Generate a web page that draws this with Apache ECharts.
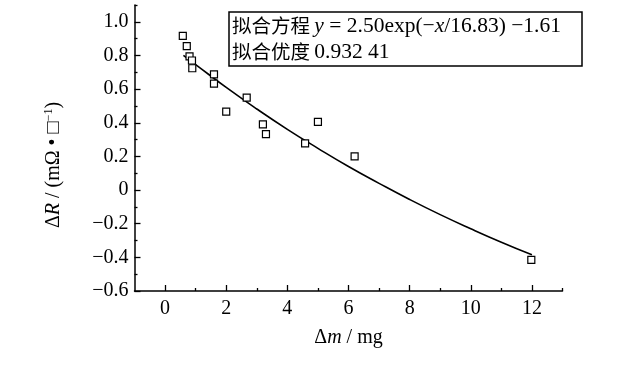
<!DOCTYPE html>
<html><head><meta charset="utf-8">
<script src="https://cdn.jsdelivr.net/npm/echarts@6/dist/echarts.min.js"></script>
<style>html,body{margin:0;padding:0;background:#fff}#c{width:640px;height:380px}</style>
</head><body><div id="c"></div>
<script>
// measured points: mass change (mg) and resistance change
const massLoss = [0.58, 0.71, 0.80, 0.88, 0.89, 1.60, 1.60, 2.00, 2.67, 3.20, 3.30, 4.58, 5.00, 6.20, 11.98];
const resistanceChange = [0.916, 0.855, 0.795, 0.77, 0.724, 0.688, 0.633, 0.466, 0.55, 0.39, 0.332, 0.277, 0.405, 0.20, -0.415];
// fitted curve
const fitX = [0.6, 1, 2, 3, 4, 5, 6, 7, 8, 9, 10, 11, 12];
const fitY = [0.80, 0.746, 0.61, 0.482, 0.361, 0.248, 0.14, 0.04, -0.056, -0.146, -0.23, -0.31, -0.385];
// ticks
const xMajorTicks = [0, 2, 4, 6, 8, 10, 12];
const xMinorTicks = [1, 3, 5, 7, 9, 11, 13];
const yMajorTicks = [-0.6, -0.4, -0.2, 0, 0.2, 0.4, 0.6, 0.8, 1.0];
const yMinorTicks = [-0.5, -0.3, -0.1, 0.1, 0.3, 0.5, 0.7, 0.9, 1.1];
const fitEquationText = '2.50exp(−';
const fitEquationText2 = '/16.83) −1.61';
const fitGoodness = '0.932 41';

const SERIF = '"Liberation Serif", "Times New Roman", serif';
const CJK = '"Noto Sans CJK SC", sans-serif';

const chart = echarts.init(document.getElementById('c'), null, {renderer: 'canvas'});
const axisLineStyle = {color: '#000', width: 1.5};
const scatterData = massLoss.map((x, i) => [x, resistanceChange[i]]);
const fitData = fitX.map((x, i) => [x, fitY[i]]);

chart.setOption({
  animation: false,
  backgroundColor: '#fff',
  grid: {left: 134.5, right: 77.5, top: 5, bottom: 89, containLabel: false},
  xAxis: [{
    type: 'value', min: -1, max: 13, position: 'bottom',
    axisLine: {onZero: false, lineStyle: axisLineStyle},
    axisTick: {inside: true, length: 6, customValues: xMajorTicks, lineStyle: {color: '#000', width: 1.3}},
    axisLabel: {customValues: xMajorTicks, color: '#000', fontFamily: SERIF, fontSize: 20, margin: 8},
    splitLine: {show: false},
    name: '{n|Δ}{i|m}{n| / mg}', nameLocation: 'middle', nameGap: 37,
    nameTextStyle: {rich: {
      n: {fontFamily: SERIF, fontSize: 20, color: '#000'},
      i: {fontFamily: SERIF, fontSize: 20, fontStyle: 'italic', color: '#000'}
    }}
  }, {
    type: 'value', min: -1, max: 13, position: 'bottom',
    axisLine: {show: false, onZero: false},
    axisTick: {inside: true, length: 3, customValues: xMinorTicks, lineStyle: {color: '#000', width: 1.3}},
    axisLabel: {show: false},
    splitLine: {show: false}
  }],
  yAxis: [{
    type: 'value', min: -0.6, max: 1.1, position: 'left',
    axisLine: {onZero: false, lineStyle: axisLineStyle},
    axisTick: {inside: true, length: 6, customValues: yMajorTicks, lineStyle: {color: '#000', width: 1.3}},
    axisLabel: {customValues: yMajorTicks, color: '#000', fontFamily: SERIF, fontSize: 20, margin: 6,
      formatter: v => Math.abs(v) < 1e-9 ? '0' : (v < 0 ? '−' : '') + Math.abs(v).toFixed(1)},
    splitLine: {show: false}
  }, {
    type: 'value', min: -0.6, max: 1.1, position: 'left',
    axisLine: {show: false, onZero: false},
    axisTick: {inside: true, length: 3, customValues: yMinorTicks, lineStyle: {color: '#000', width: 1.3}},
    axisLabel: {show: false},
    splitLine: {show: false}
  }],
  series: [{
    type: 'line', xAxisIndex: 0, yAxisIndex: 0, data: fitData, smooth: true,
    showSymbol: false, lineStyle: {color: '#000', width: 1.6}, z: 2
  }, {
    type: 'scatter', xAxisIndex: 0, yAxisIndex: 0, data: scatterData, symbol: 'rect', symbolSize: 7,
    itemStyle: {color: '#fff', borderColor: '#000', borderWidth: 1.2, opacity: 1}, z: 3
  }],
  graphic: [{
    type: 'text', x: 54, y: 165, rotation: Math.PI / 2,
    style: {
      text: '{n|Δ}{i|R}{n| / (mΩ • □}{s|−1}{n|)}',
      textAlign: 'center', textVerticalAlign: 'middle',
      rich: {
        n: {fontFamily: SERIF, fontSize: 20, fill: '#000'},
        i: {fontFamily: SERIF, fontSize: 20, fontStyle: 'italic', fill: '#000'},
        s: {fontFamily: SERIF, fontSize: 12, fill: '#000', padding: [0, 0, 10, 0]}
      }
    }
  }, {
    type: 'group', z: 10,
    children: [{
      type: 'rect', shape: {x: 229, y: 12, width: 353, height: 54},
      style: {fill: '#fff', stroke: '#000', lineWidth: 1.5}
    }, {
      type: 'text', x: 232, y: 26,
      style: {
        text: '{c|拟合方程 }{i|y}{n| = ' + fitEquationText + '}{i|x}{n|' + fitEquationText2 + '}',
        textVerticalAlign: 'middle',
        rich: {
          c: {fontFamily: CJK, fontSize: 19.5, fill: '#000'},
          n: {fontFamily: SERIF, fontSize: 21.5, fill: '#000'},
          i: {fontFamily: SERIF, fontSize: 21.5, fontStyle: 'italic', fill: '#000'}
        }
      }
    }, {
      type: 'text', x: 232, y: 52,
      style: {
        text: '{c|拟合优度 }{n|' + fitGoodness + '}',
        textVerticalAlign: 'middle',
        rich: {
          c: {fontFamily: CJK, fontSize: 19.5, fill: '#000'},
          n: {fontFamily: SERIF, fontSize: 21.5, fill: '#000'}
        }
      }
    }]
  }]
});
</script></body></html>
